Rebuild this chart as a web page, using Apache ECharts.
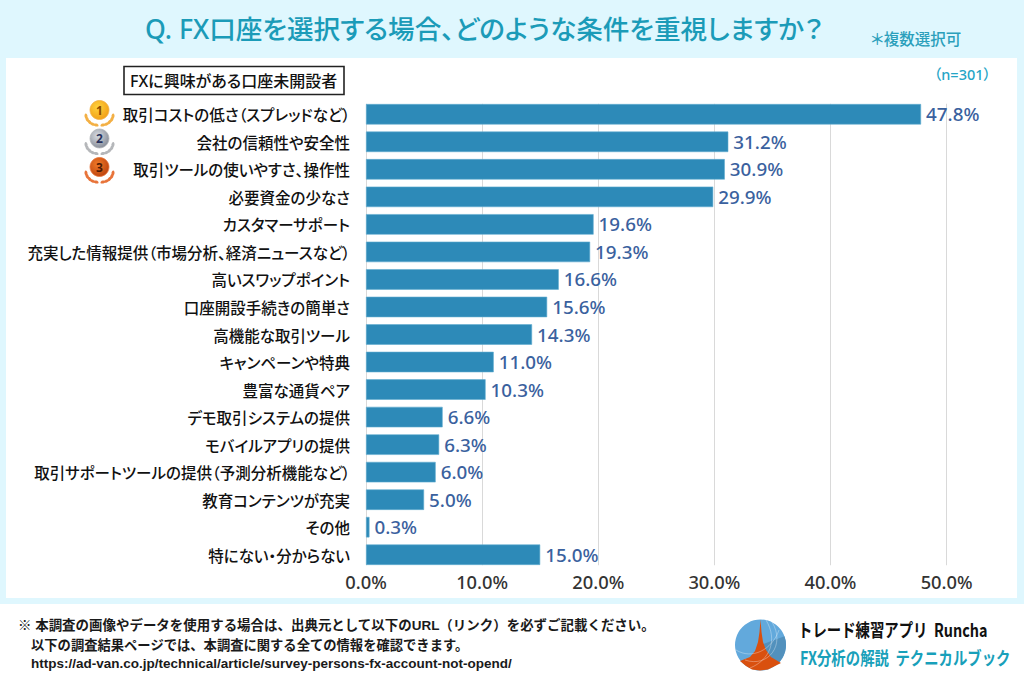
<!DOCTYPE html>
<html><head><meta charset="utf-8">
<style>
html,body{margin:0;padding:0;background:#fff}
#c{width:1024px;height:683px}
svg text:not([style*="700"]){font-feature-settings:"palt" 1 !important}
</style>
<script src="https://cdn.jsdelivr.net/npm/echarts@6/dist/echarts.min.js"></script>
</head><body><div id="c"></div>
<script>
const categories=["取引コストの低さ（スプレッドなど）","会社の信頼性や安全性","取引ツールの使いやすさ、操作性","必要資金の少なさ","カスタマーサポート","充実した情報提供（市場分析、経済ニュースなど）","高いスワップポイント","口座開設手続きの簡単さ","高機能な取引ツール","キャンペーンや特典","豊富な通貨ペア","デモ取引システムの提供","モバイルアプリの提供","取引サポートツールの提供（予測分析機能など）","教育コンテンツが充実","その他","特にない・分からない"];
const values=[47.8,31.2,30.9,29.9,19.6,19.3,16.6,15.6,14.3,11.0,10.3,6.6,6.3,6.0,5.0,0.3,15.0];
const titleText="Q. FX口座を選択する場合、どのような条件を重視しますか？";
const noteText="＊複数選択可";
const sampleText="（n=301）";
const groupText="FXに興味がある口座未開設者";
const footLines=["※ 本調査の画像やデータを使用する場合は、出典元として以下のURL（リンク）を必ずご記載ください。","以下の調査結果ページでは、本調査に関する全ての情報を確認できます。","https://ad-van.co.jp/technical/article/survey-persons-fx-account-not-opend/"];
const brandLines=["トレード練習アプリ  Runcha","FX分析の解説  テクニカルブック"];
const JP='"Noto Sans CJK JP","Noto Sans",sans-serif';
const LJ='"Noto Sans","Noto Sans CJK JP",sans-serif';
const FT='"Liberation Sans","Noto Sans CJK JP",sans-serif';

function txt(x,y,text,size,color,weight,fam,sx){
  return {type:'text',x,y,z:5,scaleX:sx||1,style:{text,fill:color,font:`${weight} ${size}px ${fam||LJ}`,textAlign:'left',textVerticalAlign:'middle'}};
}
function medal(cx,cy,n,c1,c2,leaf,ink){
  const out=[];
  [-1,1].forEach(s=>{
    [[3.5,14,0.25],[7,13,0.55],[10,11,0.85],[12.3,8.3,1.15],[13.5,5,1.45]].forEach(p=>{
      out.push({type:'ellipse',z:5,x:cx+s*p[0],y:cy+p[1],rotation:s*p[2],shape:{cx:0,cy:0,rx:2.6,ry:1.5},style:{fill:leaf}});
    });
  });
  out.push({type:'circle',z:5,shape:{cx,cy:cy-1,r:9.5},style:{fill:{type:'radial',x:0.4,y:0.35,r:0.75,colorStops:[{offset:0,color:c1},{offset:1,color:c2}]},stroke:leaf,lineWidth:0.8}});
  out.push({type:'text',z:6,x:cx,y:cy-1,style:{text:n,fill:ink,font:`700 12px "Liberation Sans Narrow","Noto Sans",sans-serif`,textAlign:'center',textVerticalAlign:'middle'}});
  return out;
}
function ring(x1,y1,cpx1,cpy1,cpx2,cpy2,x2,y2){
  return {type:'bezierCurve',z:7,shape:{x1,y1,cpx1,cpy1,cpx2,cpy2,x2,y2},style:{fill:null,stroke:'rgba(255,255,255,0.4)',lineWidth:0.8}};
}
const gfx=[
  {type:'rect',z:-3,shape:{x:0,y:0,width:1024,height:604},style:{fill:'#dff7fe'}},
  {type:'rect',z:-2,shape:{x:6,y:58,width:1011,height:540},style:{fill:'#ffffff'}},
  {type:'rect',z:1,shape:{x:360,y:565.3,width:600,height:5},style:{fill:'#ffffff'}},
  {type:'rect',z:1,shape:{x:360,y:98,width:600,height:5.8},style:{fill:'#ffffff'}},
  txt(145,29,titleText,26.6,'#1b9bb8',500),
  txt(871,38,noteText,15.5,'#2b9fbb',500,JP),
  txt(934,74,sampleText,14.5,'#25a5c6',500),
  {type:'rect',z:4,shape:{x:124,y:66.5,width:220,height:28},style:{fill:'#fff',stroke:'#222',lineWidth:1.6}},
  txt(130,80.5,groupText,16,'#111',500),
  ...medal(99.5,111,'1','#ffd23f','#f09a12','#f3b045','#8a4b00'),
  ...medal(99.5,139.5,'2','#d8dce2','#7e8490','#b5b7ba','#27315c'),
  ...medal(99.5,168,'3','#f07a28','#b83e0c','#e8743a','#4a1a05'),
  txt(18,626,footLines[0],13.3,'#1a1a1a',700,FT,1.013),
  txt(31,645,footLines[1],13.3,'#1a1a1a',700,FT),
  txt(31,663.5,footLines[2],13.5,'#1a1a1a',700,FT),
  {type:'circle',z:4,shape:{cx:760.5,cy:645,r:25.5},style:{fill:'#62a9dc'}},
  {type:'sector',z:5,shape:{cx:760.5,cy:645,r:25.5,r0:0,startAngle:-0.35,endAngle:0.85,clockwise:true},style:{fill:'#5291bd'}},
  {type:'polygon',z:6,shape:{points:[[760.5,619.5],[761.5,632],[763,642],[766,650],[771,657],[781,663],[775,666],[768,669.5],[760,670.5],[752,669.5],[746,666],[740,661],[750,657],[755,651],[758,642],[759.5,632]]},style:{fill:'#d9500f'}},
  ring(766,620,778,640,770,660,750,668),
  ring(772,622,786,645,768,668,745,660),
  ring(736,650,752,660,772,650,779,630),
  {type:'text',z:5,x:798,y:629.5,scaleX:0.80,style:{text:brandLines[0],fill:'#111',font:`700 18px ${JP}`,textAlign:'left',textVerticalAlign:'middle'}},
  {type:'text',z:5,x:800,y:657,scaleX:0.80,style:{text:brandLines[1],fill:'#18a0ba',font:`700 18px ${JP}`,textAlign:'left',textVerticalAlign:'middle'}}
];
const chart=echarts.init(document.getElementById('c'),null,{renderer:'svg'});
chart.setOption({
  animation:false,
  textStyle:{fontFamily:JP},
  grid:{left:366,top:100.5,width:580.6,height:468,containLabel:false,outerBoundsMode:'none'},
  xAxis:{type:'value',min:0,max:50,interval:10,axisLine:{show:false},axisTick:{show:false},
    splitLine:{show:true,lineStyle:{color:'#d9d9d9',width:1}},
    axisLabel:{formatter:v=>v.toFixed(1)+'%',color:'#333',fontSize:18.3,fontWeight:500,margin:4,fontFamily:LJ}},
  yAxis:{type:'category',inverse:true,data:categories,axisLine:{show:false},axisTick:{show:false},
    axisLabel:{color:'#111',fontSize:15.5,fontWeight:500,margin:16,fontFamily:JP,interval:0}},
  series:[{type:'bar',data:values,barWidth:20.5,itemStyle:{color:'#2d8ab8',borderColor:'#62acd0',borderWidth:0.6},
    label:{show:true,position:'right',distance:5,formatter:p=>p.value.toFixed(1)+'%',color:'#3a619e',fontSize:18.8,fontWeight:500,fontFamily:LJ}}],
  graphic:{elements:gfx}
});
</script></body></html>
